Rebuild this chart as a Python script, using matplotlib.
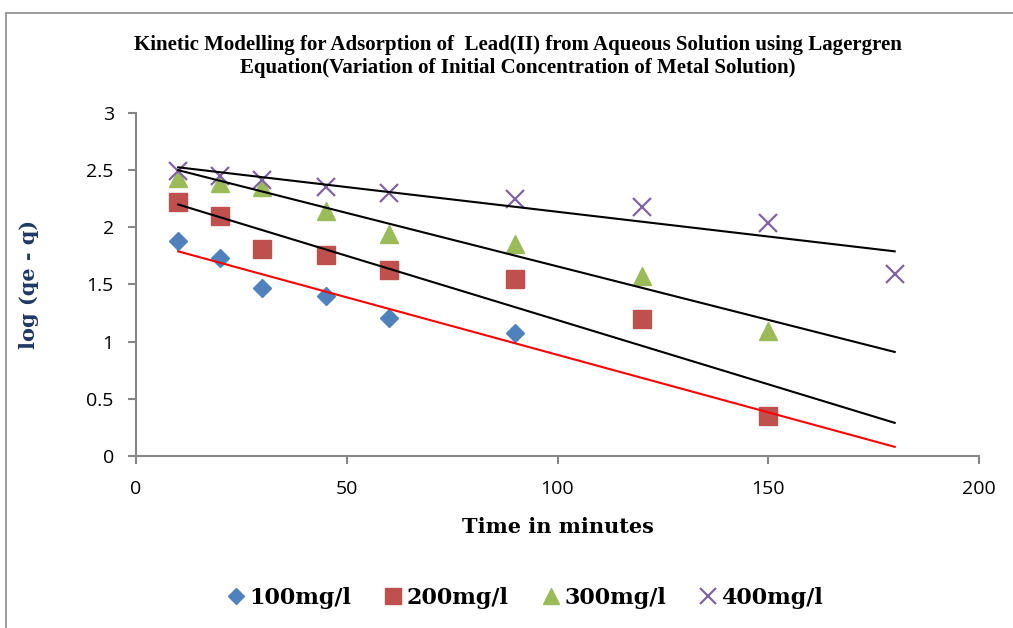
import matplotlib.pyplot as plt
from matplotlib.patches import Rectangle

# readings
time_100 = [10, 20, 30, 45, 60, 90]
log_100 = [1.88, 1.73, 1.47, 1.40, 1.21, 1.08]

time_200 = [10, 20, 30, 45, 60, 90, 120, 150]
log_200 = [2.22, 2.10, 1.81, 1.76, 1.63, 1.55, 1.20, 0.35]

time_300 = [10, 20, 30, 45, 60, 90, 120, 150]
log_300 = [2.43, 2.39, 2.35, 2.14, 1.94, 1.85, 1.57, 1.09]

time_400 = [10, 20, 30, 45, 60, 90, 120, 150, 180]
log_400 = [2.49, 2.45, 2.41, 2.35, 2.30, 2.25, 2.18, 2.04, 1.59]

# trend lines (start/end values)
trend_x = [10, 180]
trend_red = [1.79, 0.08]
trend_black = [[2.20, 0.29], [2.50, 0.91], [2.525, 1.79]]

labels = ['100mg/l', '200mg/l', '300mg/l', '400mg/l']

fig = plt.figure(figsize=(10.13, 6.28), dpi=100)
fig.patches.append(Rectangle((6 / 1013, -0.1), 1.1, 1 - 13 / 628 + 0.1,
                             transform=fig.transFigure, fill=False,
                             edgecolor='#8c8c8c', linewidth=1.2))
ax = fig.add_axes([136 / 1013, 1 - 456 / 628, (979 - 136) / 1013, (456 - 113) / 628])

ax.plot(trend_x, trend_red, color='red', lw=1.5, zorder=3)
for tb in trend_black:
    ax.plot(trend_x, tb, color='black', lw=1.5, zorder=3)

ax.plot(time_100, log_100, 'D', color='#4F81BD', ms=9.5, mec='#4F81BD', ls='none', label=labels[0], zorder=2)
ax.plot(time_200, log_200, 's', color='#C0504D', ms=13, mec='#C0504D', ls='none', label=labels[1], zorder=2)
ax.plot(time_300, log_300, '^', color='#9BBB59', ms=13, mec='#9BBB59', ls='none', label=labels[2], zorder=2)
ax.plot(time_400, log_400, 'x', color='#8064A2', ms=13, mew=1.6, ls='none', label=labels[3], zorder=2)

ax.set_xlim(0, 200)
ax.set_ylim(0, 3)
ax.set_xticks([0, 50, 100, 150, 200])
ax.set_yticks([0, 0.5, 1, 1.5, 2, 2.5, 3])
ax.set_yticklabels(['0', '0.5', '1', '1.5', '2', '2.5', '3'])
for s in ['top', 'right']:
    ax.spines[s].set_visible(False)
for s in ['left', 'bottom']:
    ax.spines[s].set_color('#868686')
    ax.spines[s].set_linewidth(1.5)
ax.tick_params(direction='out', length=6, width=1.5, color='#868686', labelsize=14)
ax.tick_params(axis='y', pad=10)
ax.tick_params(axis='x', pad=11)
for t in ax.get_xticklabels() + ax.get_yticklabels():
    t.set_family('Open Sans')

ax.set_xlabel('Time in minutes', fontsize=15, fontweight='bold',
              family='DejaVu Serif', labelpad=14)
ax.set_ylabel('log (qe - q)', fontsize=15, fontweight='bold',
              family='DejaVu Serif', color='#1F3864', labelpad=34)

fig.text(518 / 1013, 1 - 45 / 628, 'Kinetic Modelling for Adsorption of  Lead(II) from Aqueous Solution using Lagergren',
         ha='center', va='center', fontsize=15, fontweight='bold', family='Liberation Serif')
fig.text(518 / 1013, 1 - 68 / 628, 'Equation(Variation of Initial Concentration of Metal Solution)',
         ha='center', va='center', fontsize=15, fontweight='bold', family='Liberation Serif')

fig.legend(loc='center', bbox_to_anchor=(523 / 1013, 1 - 598 / 628), ncol=4, frameon=False,
           prop={'family': 'DejaVu Serif', 'weight': 'bold', 'size': 16},
           handletextpad=0.0, columnspacing=1.3, handlelength=1.2, markerscale=0.9)

fig.savefig('out.png', dpi=100)
